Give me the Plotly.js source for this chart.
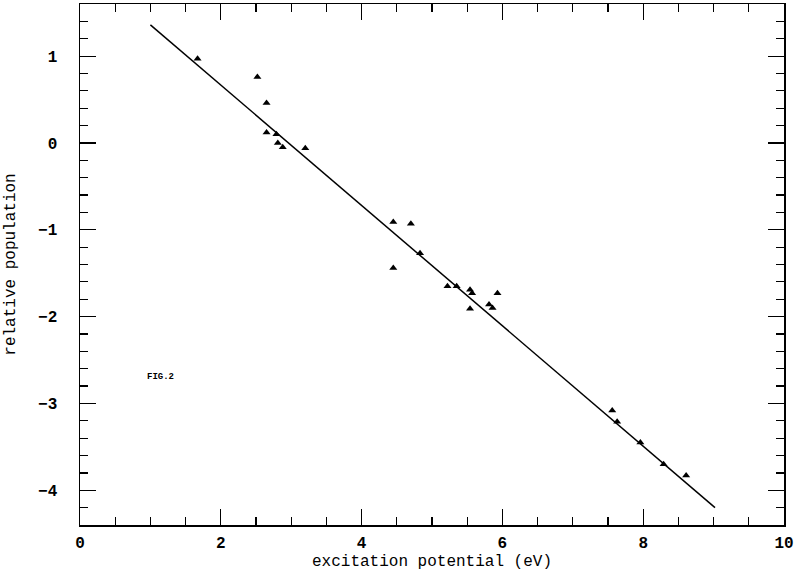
<!DOCTYPE html>
<html>
<head>
<meta charset="utf-8">
<script src="https://cdn.plot.ly/plotly-3.0.1.min.js"></script>
<style>html,body{margin:0;padding:0;background:#fff;}#chart{width:799px;height:575px;}</style>
</head>
<body>
<div id="chart"></div>
<script>
// Measured points: excitation potential (eV) and relative population
const excitation = [1.67, 2.52, 2.65, 2.65, 2.79, 2.81, 2.88, 3.20,
  4.45, 4.70, 4.83, 4.45, 5.22, 5.35, 5.54, 5.57, 5.93, 5.54, 5.81, 5.86,
  7.56, 7.63, 7.96, 8.29, 8.61];
const population = [0.97, 0.76, 0.46, 0.12, 0.10, 0.00, -0.05, -0.06,
  -0.91, -0.93, -1.27, -1.44, -1.65, -1.65, -1.69, -1.73, -1.73, -1.91, -1.86, -1.90,
  -3.08, -3.21, -3.45, -3.70, -3.83];
// Fitted line endpoints
const fitX = [1.0, 9.02];
const fitY = [1.36, -4.20];
const xTickVals = [0, 2, 4, 6, 8, 10];
const yTickVals = [-4, -3, -2, -1, 0, 1];
const figLabel = "FIG.2";

const fontFam = "'Liberation Mono', 'DejaVu Sans Mono', monospace";

const traces = [
  {x: fitX, y: fitY, mode: 'lines', type: 'scatter',
   line: {color: '#000', width: 1.5}, hoverinfo: 'skip'},
  {x: excitation, y: population, mode: 'markers', type: 'scatter',
   marker: {symbol: 'triangle-up', size: 7, color: '#000'}}
];

const axisCommon = {
  showgrid: false, zeroline: false, showline: true, linecolor: '#000', linewidth: 1.5,
  mirror: 'allticks', ticks: 'inside', tickcolor: '#000', tickwidth: 1.2, ticklen: 16,
  tickfont: {family: fontFam, size: 16, color: '#000', weight: 'bold'}
};

const layout = {
  width: 799, height: 575,
  margin: {l: 80, r: 15, t: 4, b: 50},
  paper_bgcolor: '#fff', plot_bgcolor: '#fff',
  showlegend: false,
  xaxis: Object.assign({}, axisCommon, {
    range: [0, 10], tickmode: 'array', tickvals: xTickVals,
    ticklabelstandoff: 2,
    minor: {dtick: 0.5, ticks: 'inside', ticklen: 8, tickcolor: '#000', tickwidth: 1.2, showgrid: false},
    title: {text: 'excitation potential (eV)', font: {family: fontFam, size: 16, color: '#000'}, standoff: 0}
  }),
  yaxis: Object.assign({}, axisCommon, {
    range: [-4.4, 1.6], tickmode: 'array', tickvals: yTickVals,
    ticklabelstandoff: 18,
    minor: {dtick: 0.2, tick0: 0, ticks: 'inside', ticklen: 8, tickcolor: '#000', tickwidth: 1.2, showgrid: false},
    title: {text: 'relative population', font: {family: fontFam, size: 16, color: '#000'}, standoff: 18}
  }),
  annotations: [{
    x: 1.14, y: -2.70, xref: 'x', yref: 'y', text: figLabel, showarrow: false,
    font: {family: fontFam, size: 9, color: '#000', weight: 'bold'}
  }]
};

Plotly.newPlot('chart', traces, layout, {displayModeBar: false, staticPlot: true});
</script>
</body>
</html>
